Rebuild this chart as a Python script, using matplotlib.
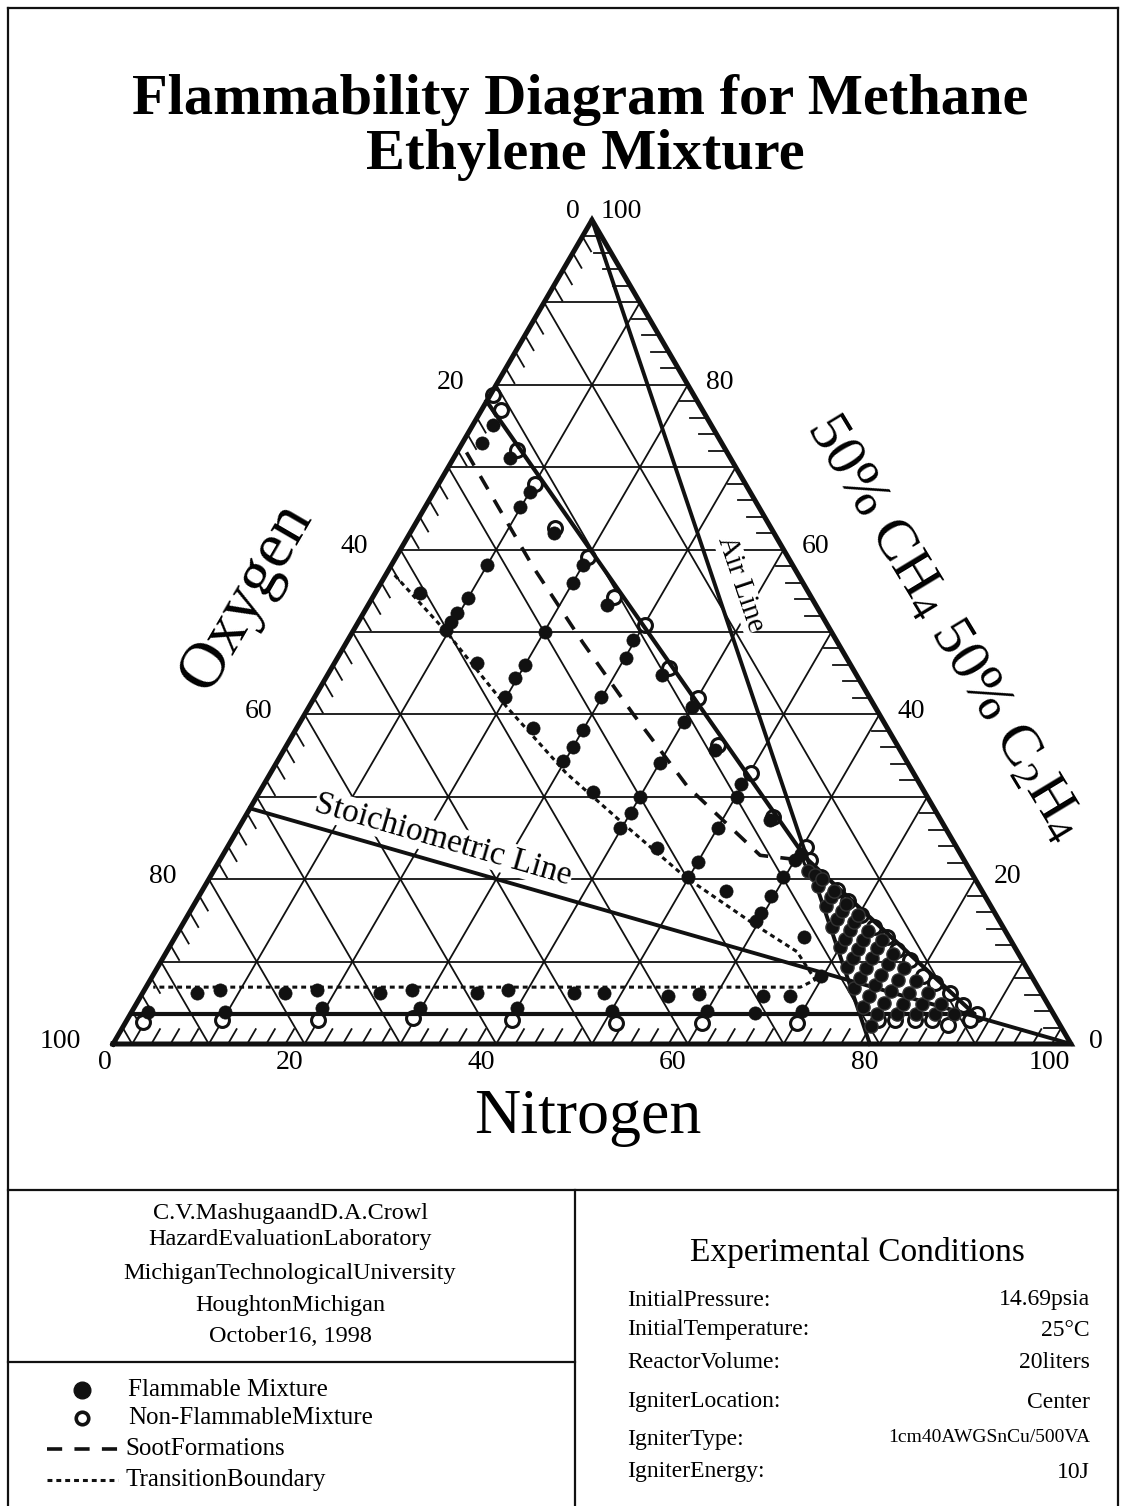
import numpy as np
import matplotlib.pyplot as plt

plt.rcParams['font.family'] = ['Liberation Serif', 'DejaVu Serif']
plt.rcParams['mathtext.fontset'] = 'custom'
plt.rcParams['mathtext.rm'] = 'Liberation Serif'
plt.rcParams['mathtext.it'] = 'Liberation Serif'

# ---- data (percent nitrogen, percent fuel); oxygen = 100 - n - f ----
ufl_n = [0, 61, 88]
ufl_f = [78, 22.6, 3.7]
lfl_n = [0, 88]
lfl_f = [3.7, 3.7]
air_n = [0, 79]
air_f = [100, 0]
stoich_n = [0, 100]
stoich_f = [28.6, 0]

soot_n = [1.0, 14.9, 24.7, 34.1, 44.4, 56.1, 60.0]
soot_f = [71.8, 57.9, 48.7, 40.2, 31.2, 22.9, 22.4]

trans_n = [0.95, 9.8, 20.65, 30.9, 40.4, 49.55, 59.9, 65.8, 69.4, 68.3, 0.75]
trans_f = [56.9, 50.0, 40.9, 32.85, 26.4, 20.3, 14.4, 11.2, 7.8, 6.9, 6.9]

# non-flammable mixtures
open_n = [0.3, 2.1, 6.1, 10.0, 14.8, 20.0, 25.1, 30.1, 35.2, 40.1, 45.0, 50.1, 55.1, 60.4, 61.6,
          63.8, 66.2, 68.1, 70.2, 72.3, 74.3, 76.1, 78.1, 80.5, 82.1, 84.3, 86.4, 88.3,
          78.4, 80.2, 82.3, 84.0, 86.0, 88.0,
          1.8, 9.9, 20.0, 29.8, 40.2, 51.2, 60.2, 70.1]
open_f = [78.8, 76.9, 72.1, 68.0, 62.6, 59.1, 54.3, 50.9, 45.6, 42.0, 36.3, 32.9, 27.6, 23.9, 22.3,
          20.3, 18.7, 17.3, 15.7, 14.2, 13.0, 11.4, 10.2, 8.2, 7.4, 6.15, 4.7, 3.7,
          2.9, 2.9, 2.9, 2.9, 2.3, 2.9,
          2.7, 2.9, 2.9, 3.1, 2.9, 2.55, 2.55, 2.55]

# flammable mixtures
fill_n = [2.15, 2.05, 5.9, 10.0, 9.9, 15.0, 10.0, 20.0, 20.1, 10.05, 24.9, 9.75, 9.7, 9.7, 20.07, 29.8,
          4.7, 14.9, 20.0, 19.8, 19.85, 30.2, 34.9, 29.9, 24.7, 30.0, 30.0, 29.85, 34.8, 40.06, 40.0,
          40.1, 39.8, 44.9, 40.0, 40.1, 45.0, 49.8, 50.1, 55.0, 50.1, 60.3, 60.0, 50.0, 49.9, 59.8,
          54.7, 59.7, 59.7, 59.7, 65.6, 69.75,
          5.65, 7.9, 14.9, 18.0, 24.8, 27.9, 34.9, 38.0, 45.0, 48.1, 55.0, 58.1, 64.96, 67.8,
          1.7, 9.7, 19.6, 29.9, 40.0, 50.1, 60.0, 65.1, 69.9]
fill_f = [75.1, 72.9, 71.1, 67.0, 65.2, 62.0, 58.1, 58.1, 55.9, 54.1, 53.3, 52.3, 51.25, 50.2, 50.0, 49.0,
          54.7, 46.2, 46.0, 44.4, 42.15, 46.8, 44.8, 42.15, 38.3, 38.1, 36.1, 34.3, 30.6, 34.07, 30.0,
          28.0, 26.2, 23.75, 40.9, 39.1, 35.7, 31.6, 30.0, 27.2, 26.2, 23.1, 22.3, 22.1, 20.3, 20.3,
          18.6, 18.0, 15.9, 14.9, 13.0, 8.3,
          6.15, 6.55, 6.15, 6.55, 6.15, 6.55, 6.15, 6.55, 6.15, 6.25, 5.8, 6.04, 5.8, 5.8,
          3.9, 3.9, 4.33, 4.33, 4.33, 3.98, 3.98, 3.77, 3.98]

# flammable mixtures packed near the nose of the envelope
nose_n = [62, 63, 64, 64, 66, 66, 66, 68, 68, 68, 68, 70, 70, 70, 70, 70,
          72, 72, 72, 72, 72, 74, 74, 74, 74, 74, 74, 76, 76, 76, 76, 76, 76,
          78, 78, 78, 78, 78, 78, 80, 80, 80, 80, 82, 82, 82, 84, 84, 86]
nose_f = [21.0, 20.5, 19.2, 20.0, 16.8, 17.8, 18.6, 14.2, 15.2, 16.2, 17.0, 11.8, 12.8, 13.8, 14.8, 15.6,
          9.3, 10.4, 11.5, 12.6, 13.7, 6.8, 8.0, 9.2, 10.4, 11.6, 12.6, 4.5, 5.8, 7.1, 8.4, 9.7, 10.9,
          2.2, 3.6, 5.0, 6.4, 7.8, 9.2, 3.6, 4.9, 6.2, 7.6, 3.6, 4.9, 6.2, 3.6, 4.8, 3.6]

ticks_major = [0, 20, 40, 60, 80, 100]

W, H = 1127, 1506
X0, Y0 = 113, 1044      # oxygen corner in pixels
SX, SY = 9.58, 8.24     # pixels per percent


def tern(n, f):
    n = np.asarray(n, float)
    f = np.asarray(f, float)
    return n + f / 2, f


def fx(px):
    return px / W


def fy(py):
    return 1 - py / H


fig = plt.figure(figsize=(W / 100, H / 100), dpi=100)
ax = fig.add_axes([0, 0, 1, 1])
ax.set_xlim(-X0 / SX, (W - X0) / SX)
ax.set_ylim((Y0 - H) / SY, Y0 / SY)
ax.axis('off')

K = '#111111'

# grid every 10 %
for v in range(10, 100, 10):
    ax.plot(*tern([0, 100 - v], [v, v]), color=K, lw=1.3, zorder=1)
    ax.plot(*tern([v, v], [0, 100 - v]), color=K, lw=1.3, zorder=1)
    ax.plot(*tern([0, 100 - v], [100 - v, 0]), color=K, lw=1.3, zorder=1)

# minor hatch ticks every 2 %
L = 1.8
for k in range(2, 100, 2):
    if k % 10 == 0:
        continue
    ax.plot(*tern([k, k], [0, L]), color=K, lw=1.3, zorder=1)
    ax.plot(*tern([0, L], [100 - k, 100 - k - L]), color=K, lw=1.3, zorder=1)
    ax.plot(*tern([100 - k, 100 - k - L], [k, k]), color=K, lw=1.3, zorder=1)

# triangle frame
ax.plot(*tern([0, 100, 0, 0], [0, 0, 100, 0]), color=K, lw=3.6,
        solid_joinstyle='miter', solid_capstyle='projecting', zorder=5)

# data points (open ones under the boundary lines)
ax.plot(*tern(open_n, open_f), 'o', ms=10, mfc='white', mec=K, mew=2.2, zorder=3)

# boundary and reference lines
ax.plot(*tern(ufl_n, ufl_f), color=K, lw=3.0, zorder=4)
ax.plot(*tern(lfl_n, lfl_f), color=K, lw=3.0, zorder=4)
ax.plot(*tern(air_n, air_f), color=K, lw=2.8, zorder=4)
ax.plot(*tern(stoich_n, stoich_f), color=K, lw=2.8, zorder=4)
ax.plot(*tern(soot_n, soot_f), color=K, lw=2.6, dashes=(4.2, 3.4), zorder=3)
ax.plot(*tern(trans_n, trans_f), color=K, lw=2.2, dashes=(1.6, 1.3), zorder=3)

ax.plot(*tern(nose_n, nose_f), 'o', ms=9.5, mfc=K, mec='#333333', mew=1.0, zorder=7)
ax.plot(*tern(fill_n, fill_f), 'o', ms=9.5, mfc=K, mec=K, mew=0.5, zorder=7)

# tick labels
tfs = 20
for v in ticks_major:
    ax.annotate(str(v), tern(v, 0), xytext=(-1, -13), textcoords='offset points',
                ha='right', va='center', fontsize=tfs)
    off = (-9, 6) if v == 0 else (-23, 2)
    ax.annotate(str(v), tern(0, 100 - v), xytext=off, textcoords='offset points',
                ha='right', va='center', fontsize=tfs)
    off = (6, 6) if v == 100 else (13, 2)
    ax.annotate(str(v), tern(100 - v, v), xytext=off, textcoords='offset points',
                ha='left', va='center', fontsize=tfs)

# line labels
ax.text(*tern(22.1, 24.8), 'Stoichiometric Line', rotation=-16.1, rotation_mode='anchor',
        ha='center', va='center', fontsize=24, zorder=8,
        bbox=dict(facecolor='white', edgecolor='none', pad=0.5))
ax.text(*tern(37.6, 55.9), 'Air Line', rotation=-71.4, rotation_mode='anchor',
        ha='center', va='center', fontsize=21, zorder=8,
        bbox=dict(facecolor='white', edgecolor='none', pad=0.3))

# axis titles
fig.text(fx(247), fy(597), 'Oxygen', rotation=59.8, ha='center', va='center', fontsize=47)
fig.text(fx(588), fy(1118), 'Nitrogen', ha='center', va='center', fontsize=46)
fig.text(fx(944), fy(628), r'50% CH$_4$ 50% C$_2$H$_4$', rotation=-58.8,
         ha='center', va='center', fontsize=42)

# title
fig.text(fx(580), fy(100), 'Flammability Diagram for Methane', ha='center', va='center',
         fontsize=42, fontweight='bold')
fig.text(fx(585), fy(155), 'Ethylene Mixture', ha='center', va='center',
         fontsize=42, fontweight='bold')

# frame of the sheet and the info panels
def seg(x1, y1, x2, y2, lw=1.6):
    fig.add_artist(plt.Line2D([fx(x1), fx(x2)], [fy(y1), fy(y2)], color=K, lw=lw))

seg(8, 8, 1118, 8)
seg(8, 8, 8, 1506)
seg(1118, 8, 1118, 1506)
seg(8, 1190, 1118, 1190)
seg(575, 1190, 575, 1506)
seg(8, 1362, 575, 1362)

credits = ['C.V.MashugaandD.A.Crowl', 'HazardEvaluationLaboratory',
           'MichiganTechnologicalUniversity', 'HoughtonMichigan', 'October16, 1998']
for txt, yy in zip(credits, [1213, 1240, 1274, 1305, 1337]):
    fig.text(fx(290), fy(yy), txt, ha='center', va='center', fontsize=17.5)

# legend
fig.add_artist(plt.Line2D([fx(82)], [fy(1390)], marker='o', ms=12, color=K, mfc=K))
fig.add_artist(plt.Line2D([fx(82)], [fy(1418)], marker='o', ms=9, color=K, mfc='white', mew=2.6))
fig.add_artist(plt.Line2D([fx(47), fx(118)], [fy(1449), fy(1449)], color=K, lw=2.6,
                          dashes=(4.2, 3.4)))
fig.add_artist(plt.Line2D([fx(47), fx(118)], [fy(1480), fy(1480)], color=K, lw=2.2,
                          dashes=(1.6, 1.3)))
fig.text(fx(128), fy(1390), 'Flammable Mixture', ha='left', va='center', fontsize=18)
fig.text(fx(128), fy(1418), 'Non-FlammableMixture', ha='left', va='center', fontsize=18)
fig.text(fx(125), fy(1449), 'SootFormations', ha='left', va='center', fontsize=18)
fig.text(fx(125), fy(1480), 'TransitionBoundary', ha='left', va='center', fontsize=18)

# experimental conditions
fig.text(fx(857), fy(1252), 'Experimental Conditions', ha='center', va='center', fontsize=24)
cond_labels = ['InitialPressure:', 'InitialTemperature:', 'ReactorVolume:',
               'IgniterLocation:', 'IgniterType:', 'IgniterEnergy:']
cond_values = ['14.69psia', '25°C', '20liters', 'Center', '1cm40AWGSnCu/500VA', '10J']
for lab, val, yy in zip(cond_labels, cond_values, [1300, 1330, 1362, 1402, 1440, 1472]):
    fig.text(fx(627), fy(yy), lab, ha='left', va='center', fontsize=17)
    fig.text(fx(1090), fy(yy - 2 if lab == 'IgniterType:' else yy), val, ha='right', va='center',
             fontsize=14 if lab == 'IgniterType:' else 17)

fig.savefig('out.png', dpi=100)
